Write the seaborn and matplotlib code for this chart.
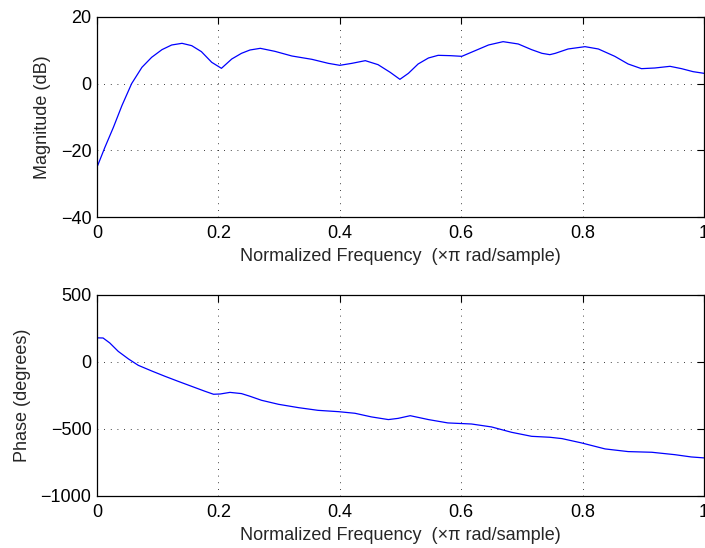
import pandas as pd
import matplotlib
matplotlib.use("Agg")
import matplotlib.pyplot as plt
import seaborn as sns

# magnitud (dB)
mag_freq = [0.001, 0.013, 0.027, 0.041, 0.057, 0.074, 0.090, 0.107, 0.123, 0.140,
            0.156, 0.172, 0.189, 0.205, 0.222, 0.238, 0.252, 0.269, 0.293, 0.321,
            0.354, 0.381, 0.400, 0.420, 0.442, 0.463, 0.483, 0.499, 0.513, 0.529,
            0.546, 0.562, 0.582, 0.601, 0.623, 0.645, 0.669, 0.694, 0.716, 0.733,
            0.746, 0.755, 0.776, 0.804, 0.826, 0.853, 0.875, 0.897, 0.919, 0.944,
            0.963, 0.982, 1.000]
mag_db = [-24.6, -19.1, -13.1, -6.6, 0.0, 4.9, 7.9, 10.2, 11.6, 12.1,
          11.4, 9.6, 6.4, 4.6, 7.4, 9.1, 10.1, 10.6, 9.7, 8.3,
          7.3, 6.1, 5.5, 6.1, 6.9, 5.7, 3.4, 1.3, 3.1, 5.9,
          7.7, 8.5, 8.4, 8.2, 9.9, 11.6, 12.6, 11.9, 10.2, 9.1,
          8.7, 9.1, 10.4, 11.1, 10.4, 8.2, 5.9, 4.5, 4.7, 5.2,
          4.5, 3.6, 3.1]

# fase (grados)
ph_freq = [0.001, 0.010, 0.021, 0.035, 0.052, 0.068, 0.090, 0.112, 0.134, 0.156,
           0.178, 0.192, 0.203, 0.219, 0.238, 0.252, 0.271, 0.299, 0.332, 0.364,
           0.398, 0.425, 0.452, 0.480, 0.496, 0.516, 0.546, 0.578, 0.617, 0.650,
           0.683, 0.716, 0.746, 0.766, 0.798, 0.837, 0.875, 0.914, 0.952, 0.979,
           1.000]
ph_deg = [180, 179, 142, 79, 22, -25, -67, -107, -145, -182,
          -219, -241, -239, -227, -236, -256, -286, -316, -341, -361,
          -371, -383, -410, -430, -421, -401, -430, -455, -463, -485,
          -525, -555, -562, -572, -604, -649, -669, -674, -692, -709,
          -716]

x_ticks = [0, 0.2, 0.4, 0.6, 0.8, 1]
x_ticklabels = ["0", "0.2", "0.4", "0.6", "0.8", "1"]
mag_ticks = [-40, -20, 0, 20]
ph_ticks = [-1000, -500, 0, 500]
xlab = "Normalized Frequency  (\u00d7\u03c0 rad/sample)"

sns.set_style("white")
plt.rcParams["font.family"] = ["Liberation Sans", "DejaVu Sans"]
plt.rcParams["font.size"] = 13
plt.rcParams["axes.unicode_minus"] = True

df_mag = pd.DataFrame({"f": mag_freq, "db": mag_db})
df_ph = pd.DataFrame({"f": ph_freq, "deg": ph_deg})

fig = plt.figure(figsize=(7.05, 5.48), dpi=100)
ax1 = fig.add_axes([0.1376, 0.604, 0.861, 0.365])
ax2 = fig.add_axes([0.1376, 0.095, 0.861, 0.3667])

sns.lineplot(data=df_mag, x="f", y="db", ax=ax1, color="#0000ff", lw=0.9)
sns.lineplot(data=df_ph, x="f", y="deg", ax=ax2, color="#0000ff", lw=0.9)

for ax, yt, ylab, ylim in [(ax1, mag_ticks, "Magnitude (dB)", (-40, 20)),
                          (ax2, ph_ticks, "Phase (degrees)", (-1000, 500))]:
    ax.set_xlim(0, 1)
    ax.set_ylim(*ylim)
    ax.set_xticks(x_ticks)
    ax.set_xticklabels(x_ticklabels)
    ax.set_yticks(yt)
    ax.set_xlabel(xlab, fontsize=13, labelpad=4)
    ax.set_ylabel(ylab, fontsize=13, labelpad=7)
    ax.tick_params(direction="in", length=5, width=0.8, top=True, right=True,
                   labelsize=13, colors="black")
    ax.tick_params(axis="x", pad=6)
    ax.tick_params(axis="y", pad=4)
    ax.grid(True, color="black", linestyle=(0, (1, 7)), linewidth=0.6)
    for s in ax.spines.values():
        s.set_color("black")
        s.set_linewidth(0.9)
        s.set_visible(True)

fig.savefig("out.png", dpi=100, facecolor="white")
